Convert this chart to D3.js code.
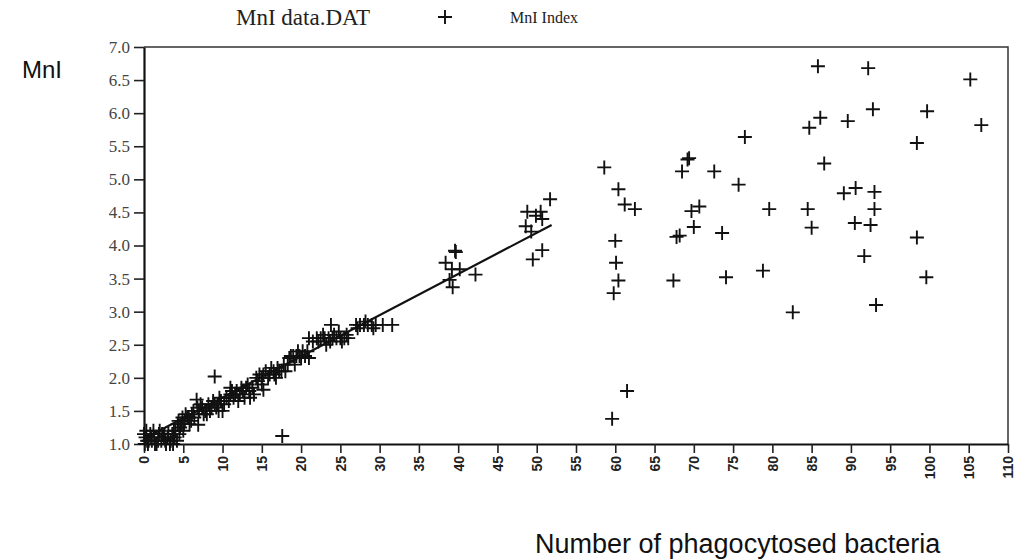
<!DOCTYPE html>
<html>
<head>
<meta charset="utf-8">
<script src="https://cdn.jsdelivr.net/npm/d3@7"></script>
<style>
  body { margin: 0; background: #fff; }
</style>
</head>
<body>
<div id="chart"></div>
<script>
// MnI index vs number of phagocytosed bacteria
const bacteria = [
  // dense band 0-4
  0.2, 0.5, 0.8, 1.0, 1.3, 1.6, 1.9, 2.2, 2.5, 2.8, 3.1, 3.4, 3.7, 3.9, 0.3, 1.2, 2.0, 0.6, 2.6,
  0.1, 0.4, 0.9, 1.4, 1.8, 2.3, 2.7, 3.0, 3.3, 3.6, 3.8, 4.2, 0.0,
  // 4-7
  4.0, 4.3, 4.6, 4.9, 5.2, 5.5, 5.8, 6.1, 6.4, 4.5, 5.0, 6.7, 6.9,
  4.4, 4.8, 5.3, 5.7, 6.0, 6.3, 5.1,
  // 7-10
  7.0, 7.4, 7.8, 8.2, 8.6, 9.0, 9.4, 9.8, 8.0, 9.5, 6.8, 10.0,
  7.2, 7.6, 8.4, 8.8, 9.2, 9.6, 10.2,
  // 10-14
  10.5, 11.0, 11.4, 11.8, 12.2, 12.6, 13.0, 13.4, 12.0, 13.5, 11.0, 14.0,
  10.8, 11.2, 11.6, 12.4, 12.8, 13.2, 13.8,
  // 14-18
  14.3, 14.7, 15.0, 15.5, 16.0, 16.5, 17.0, 17.5, 15.0, 18.0, 18.3, 16.8, 15.2,
  14.5, 15.2, 15.8, 16.2, 16.6, 17.2, 17.8,
  // 18-21
  18.5, 19.0, 19.4, 19.8, 20.2, 20.5, 21.0, 19.2,
  18.7, 19.6, 20.0, 20.8,
  // 21-26
  21.5, 22.0, 22.5, 23.0, 23.5, 24.0, 24.5, 25.0, 25.5, 26.0, 23.2, 24.8, 21.0,
  22.2, 22.8, 23.7, 24.2, 25.2, 25.8,
  // 27-32
  23.8, 27.0, 27.5, 28.0, 28.5, 29.0, 29.5, 30.4, 31.6,
  27.2, 28.2, 29.2,
  // band outliers
  9.0, 17.6,
  // around 40
  39.6, 39.7, 38.4, 39.2, 40.2, 42.2, 38.9, 39.3,
  // around 50
  51.7, 48.8, 50.5, 49.9, 50.7, 48.6, 49.3, 50.7, 49.5,
  // scattered, above 55
  85.8, 92.2, 105.2, 92.8, 99.7, 86.1, 84.7, 89.6, 106.6, 98.4, 76.5,
  58.6, 69.4, 69.2, 68.5, 72.6, 86.6, 75.7, 60.4, 61.2, 62.5, 69.7, 70.7,
  79.6, 84.5, 89.1, 90.6, 93.0, 93.0, 60.0, 67.8, 68.2, 70.0, 73.6, 85.0,
  90.5, 92.5, 98.4, 91.7, 60.1, 60.4, 59.8, 67.4, 74.1, 78.8, 99.6, 82.6,
  93.2, 61.5, 59.6
];
const mniIndex = [
  1.1, 1.0, 1.15, 1.05, 1.1, 1.0, 1.15, 1.05, 1.1, 1.0, 1.15, 1.05, 1.0, 1.1, 1.2, 1.2, 1.2, 1.05, 1.15,
  1.0, 1.05, 1.1, 1.0, 1.05, 1.15, 1.05, 1.1, 1.0, 1.15, 1.2, 1.05, 1.15,
  1.2, 1.3, 1.25, 1.4, 1.35, 1.4, 1.3, 1.45, 1.4, 1.15, 1.2, 1.67, 1.29,
  1.35, 1.3, 1.45, 1.4, 1.35, 1.5, 1.3,
  1.5, 1.55, 1.5, 1.6, 1.55, 1.6, 1.6, 1.65, 1.45, 1.5, 1.55, 1.5,
  1.6, 1.45, 1.5, 1.65, 1.55, 1.7, 1.6,
  1.7, 1.75, 1.7, 1.8, 1.75, 1.8, 1.85, 1.8, 1.65, 1.7, 1.85, 1.75,
  1.65, 1.8, 1.75, 1.85, 1.7, 1.9, 1.85,
  2.0, 2.05, 2.0, 2.1, 2.05, 2.1, 2.15, 2.1, 1.9, 2.1, 2.2, 2.0, 1.82,
  1.95, 2.05, 2.0, 2.15, 2.05, 2.1, 2.2,
  2.3, 2.33, 2.33, 2.33, 2.4, 2.33, 2.3, 2.2,
  2.33, 2.4, 2.3, 2.4,
  2.55, 2.6, 2.6, 2.6, 2.6, 2.6, 2.6, 2.6, 2.6, 2.6, 2.5, 2.7, 2.6,
  2.55, 2.65, 2.55, 2.65, 2.55, 2.65,
  2.8, 2.8, 2.8, 2.8, 2.8, 2.8, 2.8, 2.8, 2.8,
  2.75, 2.85, 2.75,
  2.02, 1.12,
  3.92, 3.9, 3.74, 3.64, 3.64, 3.56, 3.48, 3.37,
  4.70, 4.51, 4.51, 4.45, 4.40, 4.29, 4.21, 3.93, 3.79,
  6.71, 6.68, 6.51, 6.06, 6.03, 5.93, 5.78, 5.88, 5.82, 5.55, 5.64,
  5.18, 5.32, 5.30, 5.12, 5.12, 5.24, 4.92, 4.85, 4.62, 4.55, 4.52, 4.59,
  4.55, 4.55, 4.79, 4.87, 4.81, 4.55, 4.07, 4.13, 4.15, 4.28, 4.19, 4.27,
  4.34, 4.31, 4.12, 3.84, 3.74, 3.47, 3.28, 3.47, 3.52, 3.62, 3.52, 2.99,
  3.10, 1.80, 1.38
];
// fitted line end points
const fitX = [0, 51.9];
const fitY = [1.08, 4.31];

const xTicks = d3.range(0, 111, 5);
const yTicks = d3.range(1, 7.01, 0.5);

const width = 1017, height = 560;
const margin = { top: 47, right: 9, bottom: 116, left: 144 };
const plotW = width - margin.left - margin.right;
const plotH = height - margin.top - margin.bottom;

const svg = d3.select("#chart")
  .append("svg")
  .attr("width", width)
  .attr("height", height);

const g = svg.append("g")
  .attr("transform", `translate(${margin.left},${margin.top})`);

const x = d3.scaleLinear().domain([0, 110]).range([0, plotW]);
const y = d3.scaleLinear().domain([1, 7]).range([plotH, 0]);

// frame (top and right)
g.append("path")
  .attr("d", `M0,0H${plotW}V${plotH}`)
  .attr("fill", "none")
  .attr("stroke", "#333")
  .attr("stroke-width", 1.5);

// Y axis
const yAxis = g.append("g")
  .call(d3.axisLeft(y).tickValues(yTicks).tickFormat(d3.format(".1f")).tickSize(10).tickPadding(4).tickSizeOuter(0));
yAxis.select(".domain").attr("stroke-width", 2.2).attr("stroke", "#111");
yAxis.selectAll(".tick line").attr("stroke-width", 1.6).attr("stroke", "#222");
yAxis.selectAll("text")
  .style("font-family", "'Liberation Serif', 'Times New Roman', serif")
  .style("font-size", "17px")
  .attr("fill", "#444");

// X axis
const xAxis = g.append("g")
  .attr("transform", `translate(0,${plotH})`)
  .call(d3.axisBottom(x).tickValues(xTicks).tickSize(9).tickSizeOuter(0));
xAxis.select(".domain").attr("stroke-width", 2.2).attr("stroke", "#111");
xAxis.selectAll(".tick line").attr("stroke-width", 1.6).attr("stroke", "#222");
xAxis.selectAll("text")
  .attr("transform", "rotate(-90)")
  .attr("x", -12)
  .attr("y", 0)
  .attr("dy", "0.35em")
  .style("text-anchor", "end")
  .style("font-family", "'Liberation Sans', Arial, sans-serif")
  .style("font-size", "14px")
  .style("font-weight", "bold")
  .attr("fill", "#222");

// fitted line
g.append("line")
  .attr("x1", x(fitX[0])).attr("y1", y(fitY[0]))
  .attr("x2", x(fitX[1])).attr("y2", y(fitY[1]))
  .attr("stroke", "#111")
  .attr("stroke-width", 2.2);

// crosses
const points = bacteria.map((b, i) => ({ b, m: mniIndex[i] }));
g.selectAll(".pt")
  .data(points)
  .enter()
  .append("path")
  .attr("class", "pt")
  .attr("transform", d => `translate(${x(d.b)},${y(d.m)})`)
  .attr("d", "M-7,0H7M0,-7V7")
  .attr("stroke", "#111")
  .attr("stroke-width", 1.9)
  .attr("fill", "none");

// legend
svg.append("text")
  .attr("x", 236).attr("y", 25)
  .style("font-family", "'Liberation Serif', 'Times New Roman', serif")
  .style("font-size", "23px")
  .attr("fill", "#222")
  .text("MnI data.DAT");
svg.append("path")
  .attr("transform", "translate(445,17)")
  .attr("d", "M-7,0H7M0,-7V7")
  .attr("stroke", "#111")
  .attr("stroke-width", 1.9);
svg.append("text")
  .attr("x", 510).attr("y", 23)
  .style("font-family", "'Liberation Serif', 'Times New Roman', serif")
  .style("font-size", "16px")
  .attr("fill", "#222")
  .text("MnI Index");

// axis titles
svg.append("text")
  .attr("x", 22).attr("y", 78)
  .style("font-family", "'Liberation Sans', Arial, sans-serif")
  .style("font-size", "24px")
  .attr("fill", "#111")
  .text("MnI");
svg.append("text")
  .attr("x", 535).attr("y", 553)
  .style("font-family", "'Liberation Sans', Arial, sans-serif")
  .style("font-size", "27px")
  .attr("fill", "#111")
  .text("Number of phagocytosed bacteria");
</script>
</body>
</html>
